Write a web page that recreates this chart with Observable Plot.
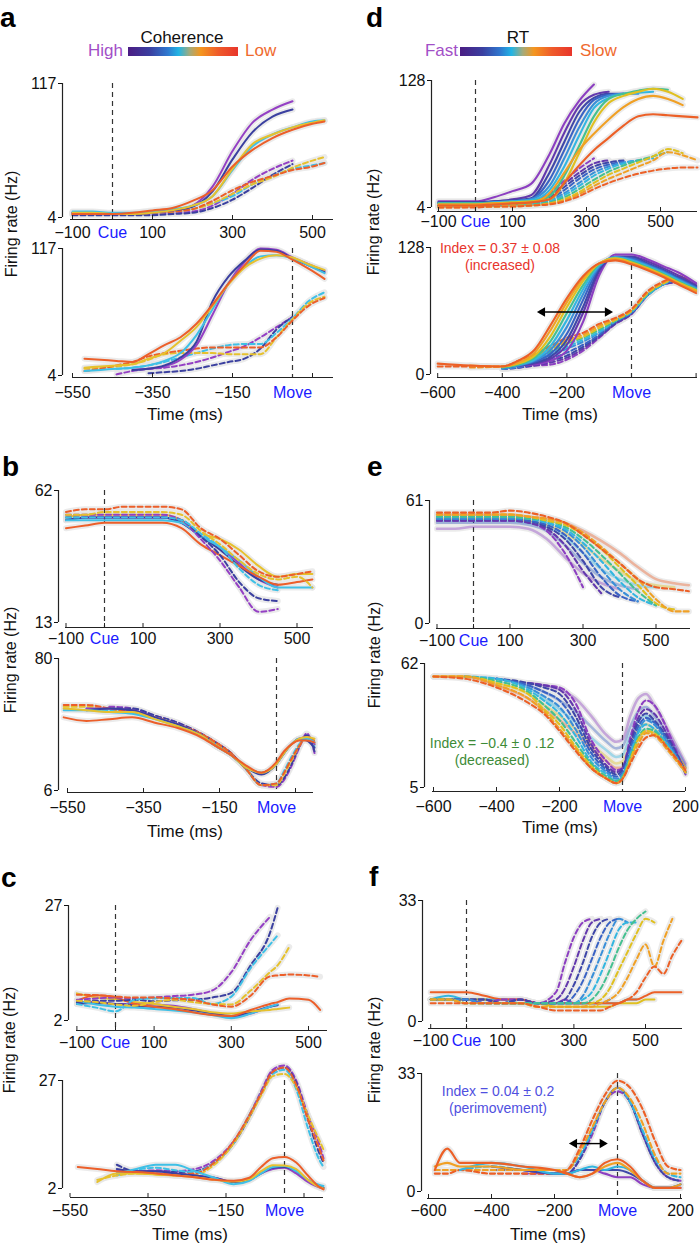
<!DOCTYPE html>
<html><head><meta charset="utf-8">
<script src="https://cdn.jsdelivr.net/npm/d3@7"></script>
<script src="https://cdn.jsdelivr.net/npm/@observablehq/plot@0.6"></script>
<style>
body{margin:0;background:#fff;font-family:"Liberation Sans",Arial,sans-serif}
#root{position:relative;width:700px;height:1243px;overflow:hidden;background:#fff}
#root svg{position:absolute}
</style></head><body><div id="root"></div>
<script>
// ---------- colours ----------
const cohColors = ["#9440c4", "#3b40a0", "#3fc0e6", "#e6c12e", "#ec5f2a"];
const rtColors = ["#8c3fc1", "#6339ad", "#3f47a8", "#3a63c4", "#3a8fd8", "#33b6e0", "#45c090", "#e0c020", "#f0a025", "#ec6027"];
const subsetIdx = [0, 3, 5, 7, 9];
const f2Idx = [0, 2, 5, 8, 9];

// ---------- ticks ----------
const cueTicks = [-100, 100, 300, 500];
const cueTickMarks = [-100, 0, 100, 300, 500];
const moveTicksABC = [-550, -350, -150];
const moveTickMarksABC = [-550, -350, -150, 50];
const moveTicksD = [-600, -400, -200];
const moveTicksEF = [-600, -400, -200, 200];
const moveTickMarksDEF = [-600, -400, -200, 200];

// ---------- panel a ----------
const a1T = [-100,-50,0,50,100,150,200,250,300,350,400,450,500,530];
const a1Solid = [
  [8,8,7,7,8,10,14,30,60,84,95,102,null,null],
  [8,8,7,7,8,10,13,26,53,76,89,95,null,null],
  [9,9,8,8,9,11,14,22,44,64,74,80,85,86],
  [8,8,7,7,8,10,14,22,45,66,74,80,84,86],
  [7,7,7,8,10,12,18,27,47,61,71,78,83,85]];
const a1Dashed = [
  [7,7,7,7,7,8,9,14,24,36,45,52,null,null],
  [6,6,6,6,6,7,8,12,19,29,40,49,null,null],
  [8,8,7,7,8,9,11,16,22,32,39,45,48,50],
  [7,7,7,7,8,9,11,16,24,32,38,46,52,55],
  [7,7,7,7,8,9,11,18,27,34,39,44,47,50]];
const a2T = [-520,-480,-440,-400,-360,-320,-280,-240,-200,-160,-120,-80,-40,0,40,80];
const a2Solid = [
  [null,null,null,9,10,12,18,31,58,86,105,117,116,109,103,97],
  [null,null,null,9,10,13,20,34,70,92,106,116,115,108,102,96],
  [8,9,10,11,13,17,24,40,63,86,101,110,111,108,102,95],
  [11,12,13,14,19,24,35,47,66,85,100,108,111,109,103,98],
  [19,18,17,16,23,31,38,50,67,86,102,115,114,107,99,90]];
const a2Dashed = [
  [null,null,5,8,10,11,13,16,20,25,30,38,47,56,null,null],
  [null,null,null,null,6,7,8,10,13,16,19,28,45,56,null,null],
  [null,null,10,11,13,16,20,24,28,31,32,32,42,55,70,78],
  [10,11,12,14,18,23,24,24,24,23,23,23,38,54,68,74],
  [8,10,13,16,21,24,26,28,29,29,29,29,38,53,66,73]];

// ---------- panel b ----------
const b1T = [-100,-50,0,50,100,150,200,250,300,350,400,450,500,540];
const b1Solid = [
  [51,52,52,52,52,52,50,45,41,35,29,26,null,null],
  [51,52,52,52,52,52,50,45,40,34,29,27,null,null],
  [51,51,51,51,51,51,50,45,41,36,30,26,26,26],
  [52,53,53,53,53,53,51,46,44,40,34,30,31,31],
  [48,49,50,50,50,50,48,42,38,34,30,27,28,29]];
const b1Dashed = [
  [53,53,53,53,53,53,51,44,36,26,17,18,null,null],
  [52,52,52,52,52,52,51,45,38,28,22,21,null,null],
  [52,52,52,52,52,52,51,46,41,33,27,25,null,null],
  [53,53,54,54,54,54,53,47,42,36,31,29,30,26],
  [54,55,55,56,56,56,55,48,44,38,32,30,31,32]];
const b2T = [-560,-500,-440,-380,-320,-260,-200,-160,-120,-80,-40,0,20,40,60,80,100];
const b2Solid = [
  [null,52,52,51,47,43,37,31,26,19,16,21,27,32,35,36,32],
  [null,51,52,51,47,43,37,31,26,19,15,21,27,32,35,34,30],
  [51,51,50,49,46,42,37,31,26,19,16,21,27,32,35,35,33],
  [52,51,50,50,46,42,37,31,26,19,16,21,27,32,35,36,35],
  [47,45,46,47,44,41,36,31,26,20,16,22,28,32,34,34,33]];
const b2Dashed = [
  [null,null,53,52,48,44,38,33,27,18,9,8,12,20,30,38,27],
  [null,null,52,52,48,44,38,33,27,18,10,9,13,21,31,37,28],
  [null,52,51,50,47,43,37,32,26,18,9,10,17,25,32,36,31],
  [53,53,52,50,47,43,37,32,26,18,9,9,15,23,31,36,32],
  [54,54,52,50,47,43,38,33,27,18,9,10,16,24,31,36,34]];

// ---------- panel c ----------
const c1T = [-100,-50,0,50,100,150,200,250,300,350,400,420,450,500,530];
const c1Solid = [
  [6,6,5.6,5.6,5.5,5.2,4.5,3.6,2.8,3.5,5,5.5,null,null,null],
  [5.6,5.8,5.6,5.2,5,4.8,4.2,3.5,3,3.8,5,5.3,null,null,null],
  [6.3,5.5,5,4.8,4.5,4.2,3.8,3.2,2.5,3.5,5,5.5,null,null,null],
  [7.9,7,6.6,6,5.6,5,4.5,3.8,3.5,4,4.3,4.5,4.8,null,null],
  [6.3,7.5,7,5.6,5,4.5,3.8,3.2,3,4.3,5.6,6,6.8,6.5,4.3]];
const c1Dashed = [
  [6.5,6.8,7,6.8,7,7.3,7.6,8.5,12.5,19.5,24.5,null,null,null,null],
  [6,6.3,6.3,6.5,6.2,6.4,6.5,7,8,14,21,26.5,null,null,null],
  [5.6,4.8,4,6.5,6.8,6.9,6.9,5.6,7.2,13.4,18.5,20.5,null,null,null],
  [6.3,6,5.5,5.2,6,6.5,6,5.6,5.5,8.5,12.5,14,18,null,null],
  [7.6,7.5,7.2,7,7,6.8,6.5,5.5,5,7.4,11.6,11.8,12,11.8,11.5]];
const c2T = [-530,-480,-430,-380,-330,-280,-230,-180,-130,-90,-60,-30,0,30,60,90,100];
const c2Solid = [
  [null,null,6,6,6,5.5,5,4.5,3.5,4,5.5,6.5,6.8,5.5,3.5,2.2,2],
  [null,null,6.5,6,6,5.5,5,4.5,3.5,4,5.5,6.8,7,6,4,2.5,2.2],
  [null,null,5.5,6.5,7.5,7.5,6,4.5,3,3.8,5.5,7,7.2,6,4,2.8,2.6],
  [null,3.5,5.5,5.5,5.2,5,4.6,4,3.6,4.2,6,7.4,7.3,6.5,4,2.3,2],
  [7,6.5,6,5.8,5.5,5,4.6,4,3.8,4.5,7,9,9.3,8,5,2.3,1.8]];
const c2Dashed = [
  [null,null,6,6,6.2,6,6.5,8.5,13,19,24.5,29.5,30.5,27,19,12,9],
  [null,null,7.5,6,6,5.8,6,8,12.5,18.5,24,29,30,26.5,18,10,8],
  [null,null,5,6.3,6.8,6.2,5.8,8,12.5,19,24,28.5,29.5,25,16,8.5,7],
  [null,4,5,5.5,5.5,5,5.2,7.5,12.5,18.5,23.5,28,28.5,25.5,19,13,11],
  [null,null,5.5,6,5.5,5.3,5.5,8,13,19,24,29,30,26,18,11,8.5]];

// ---------- panel d ----------
const d1T = [-100,-50,0,50,100,150,200,240,280,320,360,400,440,480,520,560,600];
const d1Solid = [
  [10,10,10,14,20,27,56,86,108,124,null,null,null,null,null,null,null],
  [9,9,9,10,12,16,46,77,103,114,117,null,null,null,null,null,null],
  [9,9,9,10,11,13,38,68,97,111,115,115,null,null,null,null,null],
  [8,8,8,9,10,12,31,60,90,109,114,115,null,null,null,null,null],
  [8,8,8,9,10,12,25,52,82,105,113,115,115,null,null,null,null],
  [8,8,8,9,10,11,21,44,74,101,111,115,116,117,null,null,null],
  [8,8,8,8,9,10,15,35,64,93,110,115,118,120,119,null,null],
  [7,7,7,8,9,10,12,28,57,87,106,113,117,120,117,110,null],
  [7,7,7,8,8,9,18,38,60,76,90,102,110,113,110,104,null],
  [6,6,6,7,8,9,12,28,45,60,72,84,93,95,94,93,92]];
const d1Dashed = [
  [6,6,6,7,8,10,18,30,42,52,null,null,null,null,null,null,null],
  [6,6,6,7,7,9,16,27,38,47,50,null,null,null,null,null,null],
  [6,6,6,6,7,8,14,24,35,44,48,50,null,null,null,null,null],
  [6,6,6,6,7,8,12,21,32,41,46,49,null,null,null,null,null],
  [5,5,5,6,6,7,11,18,28,38,44,48,50,null,null,null,null],
  [5,5,5,6,6,7,10,16,25,35,42,47,50,52,null,null,null],
  [5,5,5,5,6,7,9,14,22,31,39,45,50,54,58,null,null],
  [5,5,5,5,6,6,8,12,19,28,36,42,48,54,61,57,null],
  [4,4,5,5,5,6,8,11,17,25,32,38,44,50,58,55,50],
  [4,4,4,5,5,6,7,10,15,22,28,33,37,40,42,43,43]];
const d2T = [-600,-500,-400,-350,-300,-250,-200,-150,-100,-50,0,50,100,150,200];
const d2Solid = [
  [null,null,8,9,10,14,24,53,100,121,121,116,109,102,92],
  [null,null,8,9,11,16,30,62,104,119,119,114,107,99,90],
  [null,null,7,9,12,18,35,68,106,118,118,112,105,97,89],
  [null,null,7,9,13,21,41,75,108,118,117,111,104,96,88],
  [null,null,7,9,14,25,48,81,109,118,116,110,103,95,87],
  [null,null,7,10,15,29,55,86,110,118,115,109,102,94,86],
  [null,null,7,10,17,34,62,90,111,117,114,108,101,93,86],
  [null,null,8,11,19,39,68,94,112,117,113,107,100,92,85],
  [null,9,8,12,22,45,73,97,112,116,112,106,99,91,84],
  [11,9,8,14,25,50,77,99,112,115,111,105,98,90,82]];
const d2Dashed = [
  [null,null,6,7,9,10,15,24,37,51,61,80,91,93,84],
  [null,null,6,7,9,12,17,26,38,51,61,80,91,93,85],
  [null,null,6,7,10,14,19,28,39,52,62,80,91,94,86],
  [null,null,6,7,11,16,22,30,40,53,62,80,91,95,87],
  [null,null,6,8,13,19,26,33,42,54,63,80,91,96,88],
  [null,null,6,9,15,21,28,35,43,54,63,80,91,97,89],
  [null,null,7,11,16,23,31,37,45,54,64,81,92,97,89],
  [null,null,7,12,18,25,33,38,47,55,64,82,92,97,88],
  [null,7,8,13,19,27,35,40,49,56,65,83,93,98,88],
  [8,8,8,14,20,29,37,42,51,57,66,84,94,99,86]];
const dArrow = [{t1: -276, t2: -74, v: 63}];

// ---------- panel e ----------
const e1T = [-100,-50,0,50,100,150,200,250,300,350,400,450,500,550,590];
const e1Dashed = [
  [51,51,51,51,51,50,46,35,18,null,null,null,null,null,null],
  [51,51,51,51,51,50,47,39,26,15,null,null,null,null,null],
  [52,52,52,52,52,51,48,42,31,18,13,null,null,null,null],
  [52,52,52,52,52,51,49,44,35,23,14,11,null,null,null],
  [52,52,52,52,52,52,50,46,38,27,17,11,null,null,null],
  [53,53,53,53,53,52,50,47,40,31,21,13,9,null,null],
  [53,53,53,53,53,52,51,48,42,34,25,16,9,null,null],
  [54,54,54,54,54,53,51,49,44,37,28,19,10,7,null],
  [54,54,54,54,54,53,52,50,45,38,30,22,12,6,6],
  [55,55,55,55,56,55,53,50,44,37,30,22,18,17,16]];
const e1Solid = [
  [47,47,48,48,48,47,42,33,25,20,17,null,null,null,null],
  [50,50,50,50,50,49,46,39,30,23,19,17,null,null,null],
  [51,51,51,51,51,50,48,43,35,27,22,19,18,null,null],
  [52,52,52,52,52,51,49,45,39,32,26,21,19,18,null],
  [54,54,54,54,54,53,52,50,46,41,35,28,22,20,19]];
const e2T = [-600,-500,-400,-300,-250,-200,-150,-100,-50,-20,0,25,50,75,100,150,200];
const e2Dashed = [
  [null,null,null,53,52,51,44,27,17,13,14,28,40,45,43,29,11],
  [null,null,null,53,52,50,41,25,15,12,14,26,37,41,39,27,12],
  [null,null,55,53,51,48,38,23,14,11,13,24,35,39,36,26,12],
  [null,null,55,52,49,45,35,21,13,10,12,23,33,37,35,25,12],
  [null,null,55,51,47,42,32,19,12,9,11,21,31,36,34,24,12],
  [null,56,55,50,45,39,29,17,11,8,10,20,30,34,32,23,12],
  [null,56,54,49,43,36,26,16,10,8,10,19,28,32,31,22,12],
  [56,56,53,48,41,34,24,15,9,7,9,18,27,31,30,22,12],
  [56,56,52,46,40,32,23,14,9,7,9,17,25,30,29,21,12],
  [56,55,51,44,39,31,22,14,9,7,9,16,23,28,29,22,13]];
const e2Solid = [
  [null,null,null,53,52,50,46,38,29,26,27,38,46,48,43,30,16],
  [null,null,55,52,49,45,40,33,26,23,24,33,40,42,38,28,15],
  [null,56,55,51,46,41,35,28,22,19,20,29,36,38,35,26,14],
  [56,56,53,48,43,38,32,25,19,16,17,25,32,34,32,25,14],
  [56,56,52,46,41,36,30,23,17,14,14,21,28,31,30,24,14]];

// ---------- panel f ----------
const f1T = [-100,-50,0,50,100,150,200,250,275,300,325,350,375,400,425,450,475,500,525,550,575,600];
const f1Dashed = [
  [6,6,6,5,6,6,5,8,16,23,27,28,null,null,null,null,null,null,null,null,null,null],
  [6,6,6,6,5,6,5,6,9,15,22,27,28,null,null,null,null,null,null,null,null,null],
  [6,6,6,6,5,6,5,5,6,10,16,23,27,28,null,null,null,null,null,null,null,null],
  [6,6,6,5,5,5,5,5,5,7,11,17,23,27,28,null,null,null,null,null,null,null],
  [6,6,6,5,5,5,5,5,5,5,7,12,18,24,28,27,null,null,null,null,null,null],
  [6,6,5,5,5,5,5,5,5,5,6,8,13,19,25,27,27,null,null,null,null,null],
  [6,6,5,5,5,5,5,5,5,5,5,6,9,14,20,25,28,30,null,null,null,null],
  [6,6,5,5,5,5,4,4,4,4,4,5,6,9,14,19,24,28,27,null,null,null],
  [6,6,5,5,5,5,4,4,4,4,4,4,5,6,8,12,17,21,15,22,28,null],
  [5,5,5,5,5,5,4,3,3,3,3,3,3,4,5,6,8,12,15,13,18,22]];
const f1Solid = [
  [6,6,6,5,6,6,5,5,6,5,5,null,null,null,null,null,null,null,null,null,null,null],
  [6,6,6,6,5,5,5,5,5,5,5,5,5,6,null,null,null,null,null,null,null,null],
  [6,7,6,6,6,5,5,5,5,5,5,5,5,5,5,6,6,null,null,null,null,null],
  [6,6,6,6,5,5,5,4,4,4,4,4,4,4,5,5,5,6,6,null,null,null],
  [8,8,8,7,6,6,5,5,5,5,5,5,5,5,5,6,6,7,8,8,8,8]];
const f2T = [-580,-540,-500,-400,-300,-200,-160,-120,-80,-40,0,40,80,120,160,200];
const f2Dashed = [
  [null,null,null,null,5,5,5,9,16,25,28,25,16,8,4,3],
  [null,null,null,6,6,5,5,9,17,25,29,25,16,8,4,3],
  [null,null,6,7,6,5,6,10,17,25,29,25,17,9,5,4],
  [6,6,6,6,6,6,6,11,18,25,29,26,19,10,5,5],
  [5,5,6,5,5,5,6,12,20,27,31,29,23,14,7,6]];
const f2Solid = [
  [null,null,null,null,6,5,5,6,6,5,4,4,2,1,1,1],
  [null,null,null,7,6,5,5,6,6,6,6,5,3,1,1,2],
  [null,null,6,8,7,5,5,6,7,6,7,6,3,1,1,2],
  [7,8,7,7,6,6,5,4,5,7,8,6,3,1,1,2],
  [6,12,8,8,7,6,5,4,5,8,9,7,3,1,1,1]];
const fArrow = [{t1: -137, t2: -48, v: 13.4}];

// ---------- layout (pixels) ----------
const L = {
  a1:{col:0,sx:62,top:83,bot:217,ymin:4,ymax:117,ax:219,z:112,k:0.4,xs:70,xr:333,labY:232},
  a2:{col:0,sx:62,top:248,bot:375,ymin:4,ymax:117,ax:377,z:292,k:0.4,xs:72,xr:333,labY:392},
  b1:{col:0,sx:58,top:490,bot:622,ymin:13,ymax:62,ax:627,z:104,k:0.385,xs:65,xr:313,labY:638},
  b2:{col:0,sx:58,top:658,bot:790,ymin:6,ymax:80,ax:792,z:276,k:0.38,xs:67,xr:313,labY:807},
  c1:{col:0,sx:68,top:905,bot:1020,ymin:2,ymax:27,ax:1030,z:115,k:0.386,xs:76,xr:327,labY:1042},
  c2:{col:0,sx:62,top:1080,bot:1188,ymin:2,ymax:27,ax:1197,z:284,k:0.39,xs:70,xr:323,labY:1210},
  d1:{col:350,sx:431,top:80,bot:207,ymin:4,ymax:128,ax:211,z:475,k:0.37,xs:437,xr:697,labY:221},
  d2:{col:350,sx:430,top:247,bot:374,ymin:0,ymax:128,ax:377,z:631,k:0.323,xs:437,xr:697,labY:392},
  e1:{col:350,sx:429,top:500,bot:623,ymin:0,ymax:61,ax:628,z:473,k:0.365,xs:436,xr:690,labY:640},
  e2:{col:350,sx:424,top:663,bot:787,ymin:5,ymax:62,ax:791,z:622,k:0.315,xs:432,xr:685,labY:806},
  f1:{col:350,sx:422,top:900,bot:1021,ymin:0,ymax:33,ax:1028,z:466,k:0.358,xs:428,xr:682,labY:1040},
  f2:{col:350,sx:421,top:1073,bot:1191,ymin:0,ymax:33,ax:1198,z:617,k:0.315,xs:427,xr:682,labY:1210}
};

const root = document.getElementById("root");
const FONT = "Liberation Sans, Arial, Helvetica, sans-serif";
const fmt = d => d < 0 ? "\u2212" + Math.abs(d) : String(d);

function series(T, arr, colors, opts) {
  return arr.map((vals, i) => ({
    color: colors[i], ...opts,
    data: T.map((t, j) => ({t, v: vals[j]})).filter(d => d.v != null)
  }));
}

function panel(c, layers, cfg) {
  const mt = 25, mb = 34;
  const svgTop = c.top - mt;
  const H = c.ax + mb - svgTop;
  const pxPerV = (c.bot - c.top) / (c.ymax - c.ymin);
  const vAx = c.ymin - (c.ax - c.bot) / pxPerV;
  const x0 = (c.sx - c.z) / c.k, x1 = (c.xr - c.z) / c.k, xsT = (c.xs - c.z) / c.k;
  const marks = [];
  const all = layers.flat();
  for (const s of all) marks.push(Plot.line(s.data, {x: "t", y: "v", stroke: "#e4e4e4", strokeWidth: 6, strokeOpacity: 0.75, curve: "monotone-x"}));
  marks.push(Plot.ruleX([0], {stroke: "#333", strokeDasharray: "5,4", strokeWidth: 1.2}));
  for (const s of all) marks.push(Plot.line(s.data, {x: "t", y: "v", stroke: s.color, strokeWidth: s.w || 2, strokeOpacity: s.op == null ? 1 : s.op, strokeDasharray: s.dash ? "5,3" : null, curve: "monotone-x"}));
  marks.push(Plot.ruleX([x0], {y1: c.ymin, y2: c.ymax, stroke: "#222", strokeWidth: 1.2}));
  marks.push(Plot.ruleY([vAx], {x1: xsT, x2: x1, stroke: "#222", strokeWidth: 1.2}));
  marks.push(Plot.ruleX(cfg.tickMarks, {y1: vAx, y2: vAx + 4 / pxPerV, stroke: "#222"}));
  marks.push(Plot.axisY({ticks: [c.ymin, c.ymax], tickSize: 4, tickPadding: 2, fontSize: 16, tickFormat: d => String(d), label: null}));
  const pad = c.labY - c.ax - 6;
  marks.push(Plot.axisX({ticks: cfg.ticks, tickSize: 0, tickPadding: pad, fontSize: 16, tickFormat: fmt, label: null}));
  marks.push(Plot.axisX({ticks: [0], tickSize: 0, tickPadding: pad, fontSize: 16, tickFormat: () => cfg.zeroLabel, color: "#1a1aff", label: null}));
  if (cfg.arrow) {
    marks.push(Plot.link(cfg.arrow, {x1: "t1", x2: "t2", y1: "v", y2: "v", stroke: "#000", strokeWidth: 1.4}));
    marks.push(Plot.dot(cfg.arrow, {x: "t1", y: "v", symbol: "triangle2", rotate: -90, r: 4.5, fill: "#000", stroke: null}));
    marks.push(Plot.dot(cfg.arrow, {x: "t2", y: "v", symbol: "triangle2", rotate: 90, r: 4.5, fill: "#000", stroke: null}));
  }
  const svg = Plot.plot({
    width: 350, height: H,
    marginLeft: c.sx - c.col, marginRight: c.col + 350 - c.xr,
    marginTop: mt, marginBottom: mb,
    x: {domain: [x0, x1], axis: null},
    y: {domain: [vAx, c.ymax], axis: null},
    style: {background: "transparent", overflow: "visible", fontFamily: FONT, color: "#111"},
    marks
  });
  svg.style.left = c.col + "px";
  svg.style.top = svgTop + "px";
  root.appendChild(svg);
}

const cueCfg = {ticks: cueTicks, tickMarks: cueTickMarks, zeroLabel: "Cue"};
const moveABC = {ticks: moveTicksABC, tickMarks: moveTickMarksABC, zeroLabel: "Move"};
const sub = idx => idx.map(i => rtColors[i]);

panel(L.a1, [series(a1T, a1Dashed, cohColors, {dash: true}), series(a1T, a1Solid, cohColors, {})], cueCfg);
panel(L.a2, [series(a2T, a2Dashed, cohColors, {dash: true}), series(a2T, a2Solid, cohColors, {})], moveABC);
panel(L.b1, [series(b1T, b1Solid, cohColors, {}), series(b1T, b1Dashed, cohColors, {dash: true})], cueCfg);
panel(L.b2, [series(b2T, b2Dashed, cohColors, {dash: true}), series(b2T, b2Solid, cohColors, {})], moveABC);
panel(L.c1, [series(c1T, c1Solid, cohColors, {}), series(c1T, c1Dashed, cohColors, {dash: true})], cueCfg);
panel(L.c2, [series(c2T, c2Dashed, cohColors, {dash: true}), series(c2T, c2Solid, cohColors, {})], moveABC);
panel(L.d1, [series(d1T, d1Dashed, rtColors, {dash: true}), series(d1T, d1Solid, rtColors, {w: 2.1})], cueCfg);
panel(L.d2, [series(d2T, d2Dashed, rtColors, {dash: true}), series(d2T, d2Solid, rtColors, {w: 2.1})], {ticks: moveTicksD, tickMarks: moveTickMarksDEF, zeroLabel: "Move", arrow: dArrow});
panel(L.e1, [series(e1T, e1Solid, sub(subsetIdx), {op: 0.4, w: 2.6}), series(e1T, e1Dashed, rtColors, {dash: true, w: 2.1})], cueCfg);
panel(L.e2, [series(e2T, e2Solid, sub(subsetIdx), {op: 0.4, w: 2.6}), series(e2T, e2Dashed, rtColors, {dash: true, w: 2.1})], {ticks: moveTicksEF, tickMarks: moveTickMarksDEF, zeroLabel: "Move"});
panel(L.f1, [series(f1T, f1Solid, sub(subsetIdx), {}), series(f1T, f1Dashed, rtColors, {dash: true})], cueCfg);
panel(L.f2, [series(f2T, f2Dashed, sub(f2Idx), {dash: true, w: 2.1}), series(f2T, f2Solid, sub(f2Idx), {w: 2.1})], {ticks: moveTicksEF, tickMarks: moveTickMarksDEF, zeroLabel: "Move", arrow: fArrow});

// ---------- overlay text ----------
const ov = d3.select(root).append("svg").attr("width", 700).attr("height", 1243)
  .style("left", "0px").style("top", "0px").style("font-family", FONT).style("pointer-events", "none");
const defs = ov.append("defs");
const gstops = [["0", "#4b1d83"], ["0.2", "#3a3fa0"], ["0.36", "#2f78cf"], ["0.46", "#22b4e4"], ["0.56", "#a3ab7c"], ["0.66", "#f4961f"], ["0.82", "#ef5b2a"], ["1", "#e8352b"]];
const grad = defs.append("linearGradient").attr("id", "cb");
gstops.forEach(([o, c]) => grad.append("stop").attr("offset", o).attr("stop-color", c));
ov.append("rect").attr("x", 128).attr("y", 47).attr("width", 110).attr("height", 9).attr("fill", "url(#cb)");
ov.append("rect").attr("x", 460).attr("y", 47).attr("width", 112).attr("height", 9).attr("fill", "url(#cb)");

function txt(x, y, s, o = {}) {
  const t = ov.append("text").attr("x", x).attr("y", y).text(s)
    .attr("font-size", o.size || 16).attr("fill", o.fill || "#111")
    .attr("text-anchor", o.anchor || "middle").attr("font-weight", o.weight || "normal");
  if (o.rot) t.attr("transform", `rotate(-90 ${x} ${y})`);
  return t;
}
txt(182, 43, "Coherence", {size: 17});
txt(123, 56, "High", {size: 17, anchor: "end", fill: "#a24fc7"});
txt(245, 56, "Low", {size: 17, anchor: "start", fill: "#ef6a2e"});
txt(518, 43, "RT", {size: 17});
txt(458, 56, "Fast", {size: 17, anchor: "end", fill: "#a24fc7"});
txt(580, 56, "Slow", {size: 17, anchor: "start", fill: "#ef6a2e"});

[["a", 0, 27], ["b", 2, 476], ["c", 1, 887], ["d", 366, 27], ["e", 367, 476], ["f", 369, 886]]
  .forEach(([s, x, y]) => txt(x, y, s, {size: 28, weight: "bold", anchor: "start", fill: "#000"}));

[[17, 224], [16, 660], [15, 1040], [379, 222], [380, 655], [380, 1050]]
  .forEach(([x, y]) => txt(x, y, "Firing rate (Hz)", {size: 16, rot: true}));
[[185, 420], [185, 837], [190, 1240], [560, 420], [560, 833], [548, 1240]]
  .forEach(([x, y]) => txt(x, y, "Time (ms)", {size: 17}));

txt(500, 253, "Index = 0.37 \u00b1 0.08", {size: 14, fill: "#e8342c"});
txt(500, 270, "(increased)", {size: 14, fill: "#e8342c"});
txt(492, 748, "Index = \u22120.4 \u00b1 0 .12", {size: 14, fill: "#3d8b37"});
txt(492, 765, "(decreased)", {size: 14, fill: "#3d8b37"});
txt(498, 1096, "Index = 0.04 \u00b1 0.2", {size: 14, fill: "#5050e0"});
txt(498, 1113, "(perimovement)", {size: 14, fill: "#5050e0"});
</script>
</body></html>
